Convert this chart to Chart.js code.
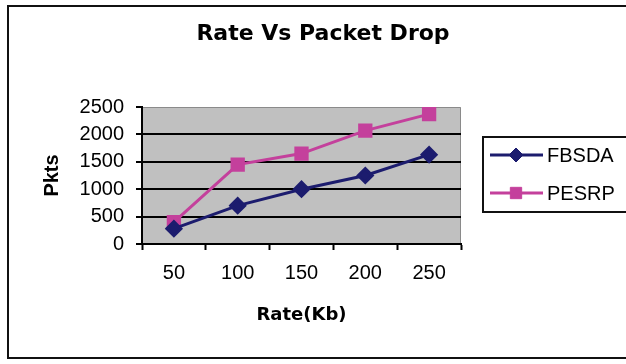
<!DOCTYPE html>
<html>
<head>
<meta charset="utf-8">
<script src="https://cdn.jsdelivr.net/npm/chart.js@4.4.1/dist/chart.umd.min.js"></script>
<style>
  html, body { margin: 0; padding: 0; background: #fff; }
  #wrap { width: 626px; height: 364px; }
</style>
</head>
<body>
<div id="wrap"><canvas id="rateChart"></canvas></div>
<script>
// chart values
const rates = ['50', '100', '150', '200', '250'];
const fbsda = [280, 700, 1000, 1250, 1630];
const pesrp = [400, 1450, 1650, 2070, 2370];
const seriesNames = ['FBSDA', 'PESRP'];

document.addEventListener('DOMContentLoaded', function() {
    const ctx = document.getElementById('rateChart');
    const plainFont = "'Liberation Sans', Arial, Helvetica, sans-serif";

    // white page, outer frame and grey plot area
    const framePlugin = {
        id: 'frame',
        beforeDraw: function(chart) {
            const c = chart.ctx;
            const a = chart.chartArea;
            c.save();
            c.fillStyle = '#ffffff';
            c.fillRect(0, 0, chart.width, chart.height);
            c.strokeStyle = '#111';
            c.lineWidth = 2;
            c.strokeRect(8, 6, chart.width + 20, 352);
            c.fillStyle = '#c0c0c0';
            c.fillRect(a.left, a.top, a.right - a.left, a.bottom - a.top);
            c.strokeStyle = '#8a8a8a';
            c.lineWidth = 1;
            c.beginPath();
            c.moveTo(a.left, a.top + 0.5);
            c.lineTo(a.right - 0.5, a.top + 0.5);
            c.lineTo(a.right - 0.5, a.bottom);
            c.stroke();
            c.restore();
        }
    };

    // legend box with line + marker samples
    const legendPlugin = {
        id: 'lineLegend',
        afterDraw: function(chart) {
            const c = chart.ctx;
            c.save();
            c.strokeStyle = '#111';
            c.lineWidth = 2;
            c.strokeRect(483, 137, 200, 75);
            chart.data.datasets.forEach(function(ds, i) {
                const y = 155 + i * 38;
                c.strokeStyle = ds.borderColor;
                c.lineWidth = 3;
                c.beginPath();
                c.moveTo(490, y);
                c.lineTo(543, y);
                c.stroke();
                c.fillStyle = ds.pointBackgroundColor;
                c.strokeStyle = ds.pointBorderColor;
                c.lineWidth = 1;
                Chart.helpers.drawPoint(c, { pointStyle: ds.pointStyle, radius: ds.pointRadius, borderWidth: 1 }, 516, y);
                c.fillStyle = '#000';
                c.font = '20px ' + plainFont;
                c.textAlign = 'left';
                c.textBaseline = 'middle';
                c.fillText(ds.label, 547, y + 1);
            });
            c.restore();
        }
    };

    new Chart(ctx, {
        type: 'line',
        data: {
            labels: rates,
            datasets: [{
                label: seriesNames[0],
                data: fbsda,
                borderColor: '#1c1c6e',
                backgroundColor: '#1c1c6e',
                borderWidth: 3,
                pointStyle: 'rectRot',
                pointRadius: 7,
                pointBackgroundColor: '#1c1c6e',
                pointBorderColor: '#1c1c6e',
                tension: 0
            }, {
                label: seriesNames[1],
                data: pesrp,
                borderColor: '#c4409c',
                backgroundColor: '#c4409c',
                borderWidth: 3,
                pointStyle: 'rect',
                pointRadius: 8,
                pointBackgroundColor: '#c4409c',
                pointBorderColor: '#c4409c',
                tension: 0
            }]
        },
        options: {
            responsive: true,
            maintainAspectRatio: false,
            animation: false,
            layout: {
                padding: { left: 20, right: 0, top: 0, bottom: 0 }
            },
            scales: {
                x: {
                    type: 'category',
                    offset: true,
                    afterFit: function(scale) { scale.height = 120; },
                    grid: {
                        offset: true,
                        drawOnChartArea: false,
                        tickLength: 6,
                        tickColor: '#000',
                        tickWidth: 2
                    },
                    border: { color: '#000', width: 2 },
                    ticks: {
                        padding: 11,
                        color: '#000',
                        font: { family: plainFont, size: 20 }
                    },
                    title: {
                        display: true,
                        text: 'Rate(Kb)',
                        color: '#000',
                        padding: { top: 0, bottom: 38 },
                        font: { family: "'DejaVu Sans', sans-serif", size: 18, weight: 'bold' }
                    }
                },
                y: {
                    min: 0,
                    max: 2500,
                    afterFit: function(scale) { scale.width = 122; },
                    grid: {
                        color: function(c) { return c.tick && c.tick.value === 2500 ? 'rgba(0,0,0,0)' : '#000'; },
                        lineWidth: 2,
                        tickLength: 6,
                        tickColor: '#000',
                        tickWidth: 2
                    },
                    border: { color: '#000', width: 2 },
                    ticks: {
                        stepSize: 500,
                        padding: 12,
                        color: '#000',
                        font: { family: plainFont, size: 20 },
                        callback: function(value) { return String(value); }
                    },
                    title: {
                        display: true,
                        text: 'Pkts',
                        color: '#000',
                        padding: { top: 20, bottom: 0 },
                        font: { family: plainFont, size: 20, weight: 'bold' }
                    }
                },
                yRight: {
                    position: 'right',
                    display: true,
                    afterFit: function(scale) { scale.width = 165; },
                    grid: { display: false },
                    border: { display: false },
                    ticks: { display: false }
                }
            },
            plugins: {
                legend: { display: false },
                tooltip: { enabled: false },
                title: {
                    display: true,
                    text: 'Rate Vs Packet Drop',
                    color: '#000',
                    padding: { top: 21, bottom: 59.6 },
                    font: { family: "'DejaVu Sans', sans-serif", size: 22, weight: 'bold' }
                }
            }
        },
        plugins: [framePlugin, legendPlugin]
    });
});
</script>
</body>
</html>
